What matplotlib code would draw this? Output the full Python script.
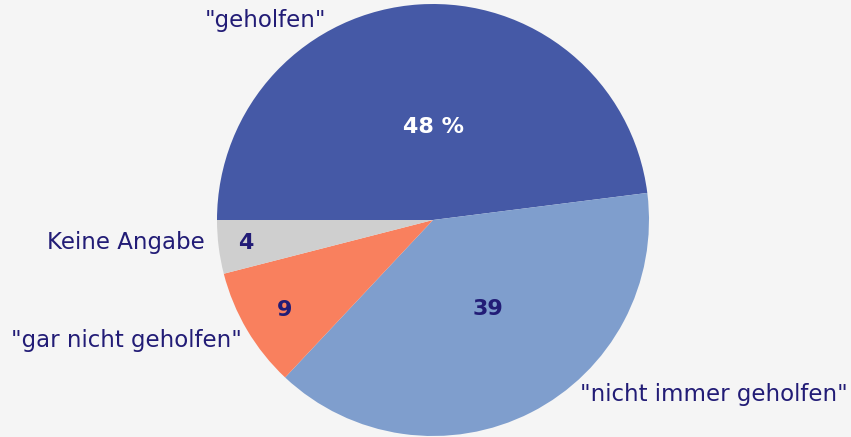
import matplotlib
matplotlib.use("Agg")
import matplotlib.pyplot as plt

categories = ['"geholfen"', '"nicht immer geholfen"', '"gar nicht geholfen"', 'Keine Angabe']
values = [48, 39, 9, 4]
value_labels = ['48 %', '39', '9', '4']
colors = ['#4559A6', '#7F9ECD', '#F9805E', '#CFCFCF']

W, H = 851, 437
cx, cy, R = 433, 220, 216

fig = plt.figure(figsize=(W / 100, H / 100), dpi=100, facecolor='#F5F5F5')
ax = fig.add_axes([0, 0, 1, 1])
ax.set_facecolor('#F5F5F5')
ax.pie(values, colors=colors, startangle=180, counterclock=False,
       wedgeprops=dict(linewidth=0))
ax.set_xlim(-cx / R, (W - cx) / R)
ax.set_ylim(-(H - cy) / R, cy / R)
ax.set_aspect('auto')
ax.axis('off')

def P(px, py):
    return (px - cx) / R, (cy - py) / R

txt_color = '#221C76'
font = 'DejaVu Sans'

# category labels (pixel anchors)
cat_pos = [((265, 20), 'center'), ((848, 395), 'right'), ((242, 340), 'right'), ((205, 243), 'right')]
for lab, ((px, py), ha) in zip(categories, cat_pos):
    x, y = P(px, py)
    ax.text(x, y, lab, ha=ha, va='center', fontsize=16.5, color=txt_color, family=font)

val_pos = [(433, 127), (488, 309), (285, 310), (246, 243)]
val_cols = ['white', txt_color, txt_color, txt_color]
for lab, (px, py), c in zip(value_labels, val_pos, val_cols):
    x, y = P(px, py)
    ax.text(x, y, lab, ha='center', va='center', fontsize=16, color=c,
            fontweight='bold', family=font)

fig.savefig('out.png', dpi=100, facecolor=fig.get_facecolor())
